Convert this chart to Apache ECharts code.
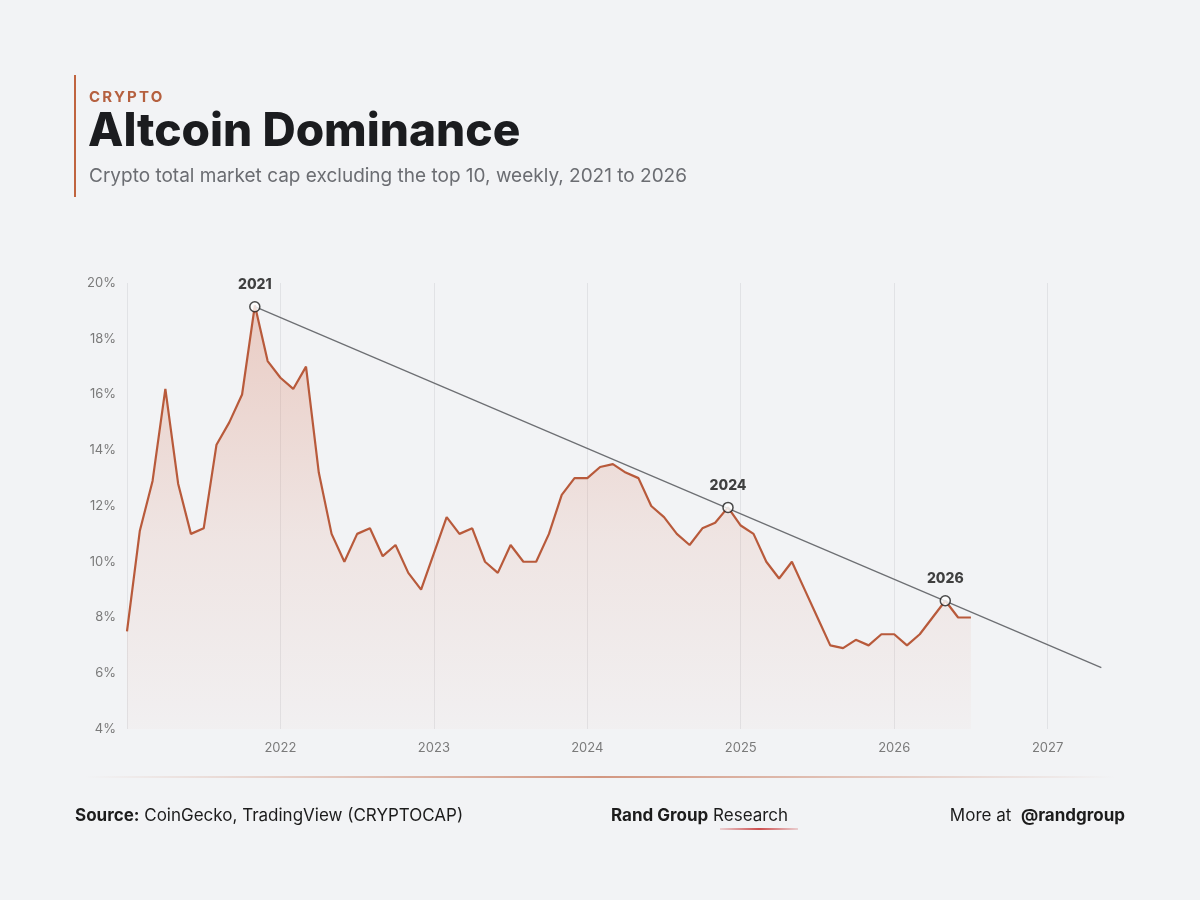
<!DOCTYPE html>
<html>
<head>
<meta charset="utf-8">
<script src="https://cdn.jsdelivr.net/npm/echarts@6/dist/echarts.min.js"></script>
<style>
  html, body { margin: 0; padding: 0; background: #f2f3f5; }
  #wrap { position: relative; width: 1200px; height: 900px; }
  #chart { width: 1200px; height: 900px; }
  .kicker {
    position: absolute; left: 89px; top: 87px;
    font: bold 15px Inter, "Noto Sans", sans-serif;
    letter-spacing: 2.2px; color: #b5603f;
  }
</style>
</head>
<body>
<div id="wrap">
  <div id="chart"></div>
  <div class="kicker">CRYPTO</div>
</div>
<script>
// monthly altcoin dominance (%), Jan 2021 -> Jul 2026
const startYear = 2021
const dominance = [
  7.5, 11.1, 12.9, 16.2, 12.8, 11.0, 11.2, 14.2, 15.0, 16.0, 19.2, 17.2,
  16.6, 16.2, 17.0, 13.2, 11.0, 10.0, 11.0, 11.2, 10.2, 10.6, 9.6, 9.0,
  10.3, 11.6, 11.0, 11.2, 10.0, 9.6, 10.6, 10.0, 10.0, 11.0, 12.4, 13.0,
  13.0, 13.4, 13.5, 13.2, 13.0, 12.0, 11.6, 11.0, 10.6, 11.2, 11.4, 11.95,
  11.3, 11.0, 10.0, 9.4, 10.0, 9.0, 8.0, 7.0, 6.9, 7.2, 7.0, 7.4,
  7.4, 7.0, 7.4, 8.0, 8.6, 8.0, 8.0
]
// annotated highs (year position, value)
const peakLabels = ['2021', '2024', '2026']
const peakX = [2021.833, 2024.917, 2026.333]
const peakY = [19.15, 11.95, 8.6]
// trend line end points
const trendX = [2021.833, 2027.35]
const trendY = [19.15, 6.2]

const yTicks = [4, 6, 8, 10, 12, 14, 16, 18, 20]

const lineData = dominance.map((v, i) => [startYear + i / 12, v])

const chart = echarts.init(document.getElementById('chart'))
const font = 'Inter, "Noto Sans", sans-serif'
const accent = '#b85a3b'
const boldRich = { b: { fontWeight: 'bold', fontSize: 17, fontFamily: font, fill: '#1c1c1c' } }

chart.setOption({
  backgroundColor: '#f2f3f5',
  textStyle: { fontFamily: font },
  animation: false,
  grid: { left: 127, right: 91, top: 283, bottom: 171 },
  xAxis: {
    type: 'value',
    min: 2021,
    max: 2027.4,
    interval: 1,
    axisLine: { show: false },
    axisTick: { show: false },
    splitLine: { show: true, showMaxLine: false, lineStyle: { color: '#e1e2e5', width: 1 } },
    axisLabel: {
      color: '#7a7a7a', fontSize: 13, margin: 13,
      showMaxLabel: false,
      formatter: v => (v === 2021 ? '' : String(v))
    }
  },
  yAxis: {
    type: 'value',
    min: yTicks[0],
    max: yTicks[yTicks.length - 1],
    interval: 2,
    axisLine: { show: false },
    axisTick: { show: false },
    splitLine: { show: false },
    axisLabel: { color: '#7a7a7a', fontSize: 13, margin: 11, formatter: '{value}%' }
  },
  series: [
    {
      type: 'line',
      data: lineData,
      symbol: 'none',
      lineStyle: { color: accent, width: 2.2 },
      areaStyle: {
        color: new echarts.graphic.LinearGradient(0, 0, 0, 1, [
          { offset: 0, color: 'rgba(215,120,90,0.45)' },
          { offset: 0.55, color: 'rgba(215,120,90,0.17)' },
          { offset: 1, color: 'rgba(215,120,90,0.04)' }
        ])
      },
      z: 2
    },
    {
      type: 'line',
      data: trendX.map((x, i) => [x, trendY[i]]),
      symbol: 'none',
      lineStyle: { color: '#6d6f73', width: 1.3 },
      z: 3
    },
    {
      type: 'scatter',
      data: peakX.map((x, i) => ({ value: [x, peakY[i]], name: peakLabels[i] })),
      symbol: 'circle',
      symbolSize: 10,
      itemStyle: { color: '#ffffff', borderColor: '#1e1e1e', borderWidth: 1.5 },
      label: {
        show: true,
        position: 'top',
        distance: 9,
        formatter: p => p.name,
        color: '#111111',
        fontWeight: 800,
        fontSize: 14
      },
      z: 5
    }
  ],
  graphic: [
    { type: 'rect', shape: { x: 74, y: 75, width: 2, height: 122 }, style: { fill: '#c0643f' } },
    {
      type: 'text', left: 88, top: 109,
      style: { text: 'Altcoin Dominance', font: '800 46px ' + font, fill: '#1b1c1f' }
    },
    {
      type: 'text', left: 89, top: 167,
      style: { text: 'Crypto total market cap excluding the top 10, weekly, 2021 to 2026', font: '19px ' + font, fill: '#6b6d72' }
    },
    {
      type: 'rect', shape: { x: 85, y: 776, width: 1030, height: 2 },
      style: {
        fill: new echarts.graphic.LinearGradient(0, 0, 1, 0, [
          { offset: 0, color: 'rgba(200,120,90,0)' },
          { offset: 0.5, color: 'rgba(200,120,90,0.75)' },
          { offset: 1, color: 'rgba(200,120,90,0)' }
        ])
      }
    },
    {
      type: 'text', left: 75, top: 807,
      style: {
        text: '{b|Source:} CoinGecko, TradingView (CRYPTOCAP)',
        font: '17px ' + font, fill: '#1c1c1c', rich: boldRich
      }
    },
    {
      type: 'text', left: 611, top: 807,
      style: {
        text: '{b|Rand Group} Research',
        font: '17px ' + font, fill: '#1c1c1c', rich: boldRich
      }
    },
    {
      type: 'rect', shape: { x: 720, y: 828, width: 78, height: 2 },
      style: {
        fill: new echarts.graphic.LinearGradient(0, 0, 1, 0, [
          { offset: 0, color: 'rgba(200,60,60,0.2)' },
          { offset: 0.5, color: 'rgba(200,60,60,0.9)' },
          { offset: 1, color: 'rgba(200,60,60,0.2)' }
        ])
      }
    },
    {
      type: 'text', right: 75, top: 807,
      style: {
        text: 'More at  {b|@randgroup}',
        font: '17px ' + font, fill: '#1c1c1c', rich: boldRich
      }
    }
  ]
})
</script>
</body>
</html>
